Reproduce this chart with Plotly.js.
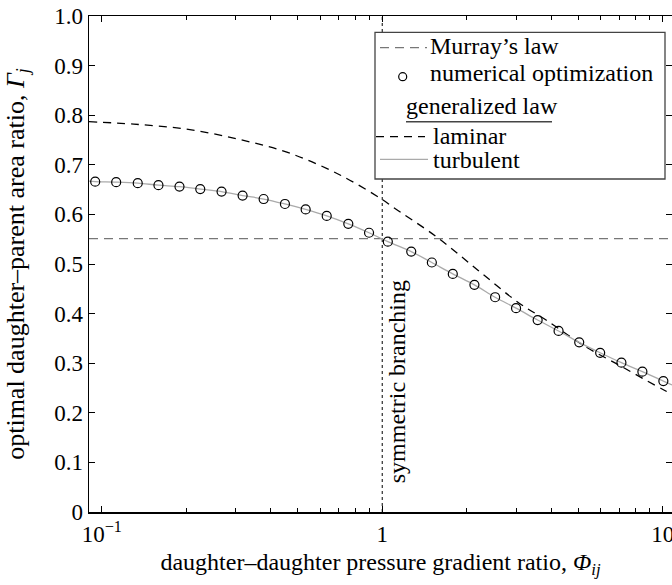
<!DOCTYPE html>
<html>
<head>
<meta charset="utf-8">
<script src="https://cdn.plot.ly/plotly-3.0.1.min.js"></script>
<style>html,body{margin:0;padding:0;background:#fff;}#chart{width:672px;height:585px;}</style>
</head>
<body>
<div id="chart"></div>
<script>
// Numerical optimization points (Phi_ij, Gamma_j)
const numPhi = [0.0947, 0.1125, 0.1343, 0.1592, 0.1892, 0.2244, 0.2673, 0.3177, 0.3776, 0.4498,
  0.5333, 0.6339, 0.7568, 0.8974, 1.0471, 1.269, 1.503, 1.785, 2.132, 2.527,
  3.001, 3.583, 4.255, 5.041, 5.987, 7.129, 8.469, 10.06];
const numGamma = [0.666, 0.665, 0.663, 0.659, 0.656, 0.651, 0.646, 0.638, 0.631, 0.621,
  0.610, 0.597, 0.581, 0.563, 0.545, 0.525, 0.503, 0.480, 0.458, 0.433,
  0.411, 0.387, 0.365, 0.342, 0.321, 0.301, 0.283, 0.264];
// Generalized law, turbulent
const turbPhi = [0.09].concat(numPhi, [10.8]);
const turbGamma = [0.667].concat(numGamma, [0.256]);
// Generalized law, laminar
const lamPhi = [0.09, 0.13, 0.2, 0.31, 0.47, 0.71, 1.0, 1.09, 1.56, 2.2, 3.08, 3.84, 5.32, 7.0, 8.7, 10.1, 10.8];
const lamGamma = [0.787, 0.782, 0.772, 0.751, 0.723, 0.679, 0.630, 0.615, 0.555, 0.487, 0.421, 0.387, 0.333, 0.296, 0.266, 0.246, 0.237];
// Murray's law
const murrayGamma = 0.551;
const xMin = 0.09, xMax = 10.8;
const symPhi = 1;

const xTickVals = [0.1, 1, 10];
const xTickText = ['10<sup>\u22121</sup>', '1', '10'];
const xMinor = [0.2,0.3,0.4,0.5,0.6,0.7,0.8,0.9,2,3,4,5,6,7,8,9];
const yTickVals = [0,0.1,0.2,0.3,0.4,0.5,0.6,0.7,0.8,0.9,1.0];
const yTickText = ['0','0.1','0.2','0.3','0.4','0.5','0.6','0.7','0.8','0.9','1.0'];
const legendLabels = ['Murray\u2019s law', 'numerical optimization', 'generalized law', 'laminar', 'turbulent'];

const F = '"Liberation Serif", "Times New Roman", serif';
const W = 672, H = 585, ML = 89, MR = 0, MT = 16, MB = 73;
const PW = W - ML - MR, PH = H - MT - MB;
const px = v => (v - ML) / PW;          // pixel -> paper x
const py = v => (H - MB - v) / PH;      // pixel -> paper y

const murrayStyle = {color: '#777', width: 1.3, dash: '9px,6px'};
const lamStyle = {color: '#000', width: 1.3, dash: '8px,6px'};
const turbStyle = {color: '#aaa', width: 1.3};

const traces = [
  {x: [symPhi, symPhi], y: [0, 1], mode: 'lines', hoverinfo: 'skip',
   line: {color: '#000', width: 1, dash: 'dot'}},
  {x: [xMin, xMax], y: [murrayGamma, murrayGamma], mode: 'lines', name: legendLabels[0], line: murrayStyle},
  {x: lamPhi, y: lamGamma, mode: 'lines', name: legendLabels[3],
   line: Object.assign({shape: 'spline'}, lamStyle)},
  {x: turbPhi, y: turbGamma, mode: 'lines', name: legendLabels[4],
   line: Object.assign({shape: 'spline'}, turbStyle)},
  {x: numPhi, y: numGamma, mode: 'markers', name: legendLabels[1],
   marker: {symbol: 'circle-open', size: 9, color: '#000', line: {width: 1.2}}}
];

const legFont = {family: F, size: 24, color: '#000'};
const shapes = [
  {type: 'rect', xref: 'paper', yref: 'paper', x0: px(375), x1: px(665), y0: py(179), y1: py(32.3),
   line: {color: '#444', width: 1.3}, fillcolor: '#fff', layer: 'above'},
  {type: 'line', xref: 'paper', yref: 'paper', x0: px(380), x1: px(427), y0: py(47.7), y1: py(47.7), line: murrayStyle},
  {type: 'circle', xref: 'paper', yref: 'paper', x0: px(398.7), x1: px(406.7), y0: py(80.7), y1: py(72.7),
   line: {color: '#000', width: 1.2}},
  {type: 'line', xref: 'paper', yref: 'paper', x0: px(406), x1: px(552), y0: py(121.7), y1: py(121.7),
   line: {color: '#444', width: 1.6}},
  {type: 'line', xref: 'paper', yref: 'paper', x0: px(376), x1: px(425), y0: py(136.7), y1: py(136.7), line: lamStyle},
  {type: 'line', xref: 'paper', yref: 'paper', x0: px(380), x1: px(428), y0: py(159.3), y1: py(159.3), line: turbStyle}
];
const legPos = [[428, 46], [428, 73], [404, 106], [431, 136], [431, 160]];
const annotations = legPos.map((p, i) => ({
  xref: 'paper', yref: 'paper', x: px(p[0]), y: py(p[1]), xanchor: 'left', yanchor: 'middle',
  text: legendLabels[i], showarrow: false, font: legFont
}));
annotations.push({x: Math.log10(symPhi), y: 0.262, xref: 'x', yref: 'y', text: 'symmetric branching',
  textangle: -90, showarrow: false, xanchor: 'center', yanchor: 'middle', xshift: 15,
  font: {family: F, size: 24, color: '#000'}});

const layout = {
  width: W, height: H,
  margin: {l: ML, r: MR, t: MT, b: MB},
  paper_bgcolor: '#fff', plot_bgcolor: '#fff',
  font: {family: F, size: 23, color: '#000'},
  showlegend: false,
  xaxis: {type: 'log', range: [Math.log10(xMin), Math.log10(xMax)],
    tickvals: xTickVals, ticktext: xTickText, ticks: 'inside', ticklen: 6, tickwidth: 1,
    tickcolor: '#000', showline: true, linecolor: '#000', linewidth: 1.5, mirror: 'ticks',
    showgrid: false, zeroline: false, ticklabeloverflow: 'allow', ticklabelstandoff: 1,
    minor: {tickvals: xMinor, ticks: 'inside', ticklen: 4, tickcolor: '#000', tickwidth: 1, showgrid: false},
    tickfont: {family: F, size: 23},
    title: {text: 'daughter\u2013daughter pressure gradient ratio, <i>\u03a6</i><sub><i>ij</i></sub>',
      font: {family: F, size: 24}, standoff: 7}},
  yaxis: {range: [0, 1], tickvals: yTickVals, ticktext: yTickText, ticks: 'inside', ticklen: 6,
    tickwidth: 1, tickcolor: '#000', showline: true, linecolor: '#000', linewidth: 1.5,
    mirror: 'ticks', showgrid: false, zeroline: false, tickfont: {family: F, size: 23},
    title: {text: 'optimal daughter\u2013parent area ratio, <i>\u0393</i><sub><i>j</i></sub>',
      font: {family: F, size: 26}, standoff: 22}},
  shapes: shapes,
  annotations: annotations
};

Plotly.newPlot('chart', traces, layout, {displayModeBar: false, staticPlot: true});
</script>
</body>
</html>
